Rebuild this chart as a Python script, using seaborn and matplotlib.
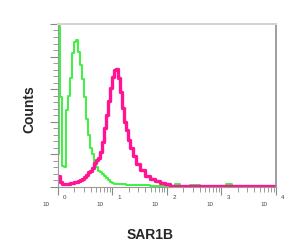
import numpy as np
import pandas as pd
import matplotlib
matplotlib.use('Agg')
import matplotlib.pyplot as plt
from matplotlib.ticker import MultipleLocator, LogLocator, NullFormatter
import seaborn as sns

# bin edges in decades (log10 of intensity), shared by both histograms
edges_log = [0.00, 0.02, 0.04, 0.07, 0.11, 0.15, 0.18, 0.22, 0.26, 0.29, 0.33, 0.37, 0.40,
             0.44, 0.48, 0.51, 0.55, 0.59, 0.62, 0.66, 0.70, 0.73, 0.77, 0.81, 0.84, 0.88,
             0.92, 0.95, 0.99, 1.03, 1.06, 1.10, 1.14, 1.17, 1.21, 1.25, 1.28, 1.32, 1.38,
             1.43, 1.50, 1.60, 1.69, 1.78, 1.87, 1.96, 2.06, 2.15, 2.24, 2.42, 2.61, 3.08,
             3.19, 3.34, 4.00]

# isotype control (green)
control = [20, 99, 55, 13, 12, 47, 56, 67, 82, 89, 90, 83, 75, 66, 55, 42, 32, 24, 20, 15,
           12, 10, 9, 8, 7, 5.5, 4.3, 3, 2.5, 2, 2, 2, 2, 2, 2, 1.5, 1.5, 1.2, 1.2, 1.2,
           1, 1, 0.6, 0.6, 0.6, 0.6, 0.6, 1.8, 0.6, 1.5, 0.6, 1.8, 0.6, 0.6]

# SAR1B stained (pink)
sar1b = [7, 7, 3, 2, 2, 2, 2, 2.5, 2.5, 3, 3, 3.7, 4.3, 5, 6, 7.4, 9, 10, 11.7, 15,
         16.5, 18, 21.5, 27.6, 36, 44, 53, 61, 67.5, 72, 72.4, 67, 58, 48.5, 40, 35, 29,
         24, 19, 14, 10.4, 6.7, 5, 3.7, 2.5, 1.8, 0.9, 0.9, 0.9, 0.9, 0.9, 0.9, 0.9, 0.9]

decades = [0, 1, 2, 3, 4]

x = 10 ** np.array(edges_log)
df = pd.DataFrame({'x': np.concatenate([x, x]),
                   'y': control + [control[-1]] + sar1b + [sar1b[-1]],
                   'sample': ['control'] * len(x) + ['SAR1B'] * len(x)})

sns.set_style('white')
plt.rcParams['font.family'] = ['Liberation Sans', 'DejaVu Sans']

fig = plt.figure(figsize=(3, 2.52), dpi=100)
ax = fig.add_axes([0.193, 0.258, 0.727, 0.647])

sns.lineplot(data=df[df['sample'] == 'control'], x='x', y='y', ax=ax, color='#3df23d',
             lw=1.4, drawstyle='steps-post', estimator=None)
sns.lineplot(data=df[df['sample'] == 'SAR1B'], x='x', y='y', ax=ax, color='#ff1493',
             lw=2.4, drawstyle='steps-post', estimator=None)

ax.set_xscale('log')
ax.set_xlim(1, 1e4)
ax.set_ylim(0, 100)

ax.xaxis.set_major_locator(LogLocator(base=10))
ax.xaxis.set_minor_locator(LogLocator(base=10, subs=np.arange(2, 10)))
ax.xaxis.set_major_formatter(NullFormatter())
ax.xaxis.set_minor_formatter(NullFormatter())
ax.yaxis.set_major_locator(MultipleLocator(20))
ax.yaxis.set_minor_locator(MultipleLocator(4))
ax.yaxis.set_major_formatter(NullFormatter())

ax.tick_params(axis='both', which='major', direction='out', length=6, width=0.8,
               color='#8a8a8a', bottom=True, left=True)
ax.tick_params(axis='both', which='minor', direction='out', length=3.5, width=0.6,
               color='#8a8a8a', bottom=True, left=True)

for side in ['left', 'bottom']:
    ax.spines[side].set_color('#9a9a9a')
    ax.spines[side].set_linewidth(0.8)
ax.spines['top'].set_color('#d4d4d4')
ax.spines['top'].set_linewidth(1.5)
ax.spines['right'].set_color('#8c8c8c')
ax.spines['right'].set_linewidth(1.2)

# decade labels drawn as "10" with a separated exponent, like the cytometer software
for d in decades:
    ax.annotate('10', xy=(10 ** d, 0), xycoords=('data', 'axes fraction'),
                xytext=(-12, -18), textcoords='offset pixels', ha='center', va='center',
                fontsize=4.5, color='#444444')
    ax.annotate(str(d), xy=(10 ** d, 0), xycoords=('data', 'axes fraction'),
                xytext=(7, -11), textcoords='offset pixels', ha='center', va='center',
                fontsize=4.5, color='#444444')

ax.set_xlabel('')
ax.set_ylabel('')
fig.text(0.5, 0.067, 'SAR1B', ha='center', va='center', fontsize=10, fontweight='bold')
fig.text(0.097, 0.565, 'Counts', ha='center', va='center', rotation=90, fontsize=10,
         fontweight='bold')

fig.savefig('out.png', dpi=100)
